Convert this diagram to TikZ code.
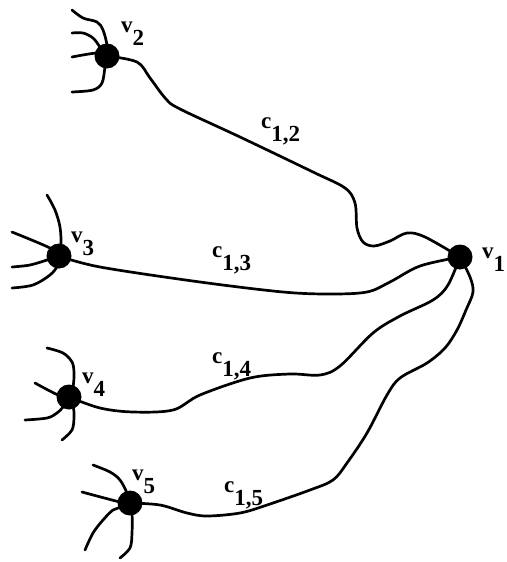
\documentclass[tikz,border=0pt]{standalone}
\usepackage{fontspec}
\setmainfont{Liberation Serif}
\begin{document}
\begin{tikzpicture}[x=1pt,y=-1pt,
  vertex/.style={circle,fill=black,inner sep=0pt,minimum size=25pt},
  wire/.style={line width=2.7pt,line cap=round,line join=round},
  lbl/.style={anchor=base west,inner sep=0pt,font=\fontsize{23}{23}\selectfont\bfseries}]
\useasboundingbox (0,0) rectangle (506,562);
\newcommand{\vlab}[2]{#1\raisebox{-13pt}{\fontsize{23}{23}\selectfont\bfseries #2}}

% vertices
\node[vertex] (v1) at (460,257) {};
\node[vertex] (v2) at (107,56) {};
\node[vertex] (v3) at (59,256) {};
\node[vertex] (v4) at (69,397) {};
\node[vertex] (v5) at (130,503) {};

% vertex labels
\node[lbl] (l1) at (482,258) {\vlab{v}{1}};
\node[lbl] (l2) at (121,32) {\vlab{v}{2}};
\node[lbl] (l3) at (71,242) {\vlab{v}{3}};
\node[lbl] (l4) at (82,383) {\vlab{v}{4}};
\node[lbl] (l5) at (132,480) {\vlab{v}{5}};

% edges to v1
\draw[wire] plot[smooth,tension=0.55] coordinates {(v2) (137,62) (150,78) (166,99) (180,109) (240,137) (313,172) (345,188) (355,203) (357,228) (363,242) (374,246) (390,241) (407,233) (425,237) (v1)};
\draw[wire] plot[smooth,tension=0.55] coordinates {(v3) (100,267) (200,282) (283,292) (330,294) (367,292) (390,282) (420,266) (v1)};
\draw[wire] plot[smooth,tension=0.55] coordinates {(v4) (100,408) (133,412) (173,410) (200,395) (250,378) (290,374) (320,375) (340,366) (373,333) (400,316) (433,300) (448,285) (v1)};
\draw[wire] plot[smooth,tension=0.55] coordinates {(v1) (470,277) (473,292) (466,310) (457,330) (445,348) (427,363) (400,378) (387,395) (367,433) (347,463) (333,480) (310,490) (267,505) (240,513) (207,516) (187,513) (160,505) (v5)};

% edge labels
\node[lbl] (c12) at (261,128) {\vlab{c}{1,2}};
\node[lbl] (c13) at (212,257) {\vlab{c}{1,3}};
\node[lbl] (c14) at (212,363) {\vlab{c}{1,4}};
\node[lbl] (c15) at (224,492) {\vlab{c}{1,5}};

% loose edges at v2
\draw[wire] plot[smooth,tension=0.55] coordinates {(72,10) (83,18) (97,22) (103,30) (107,45) (v2)};
\draw[wire] plot[smooth,tension=0.55] coordinates {(72,33) (83,33) (93,38) (100,47) (v2)};
\draw[wire] plot[smooth,tension=0.55] coordinates {(72,57) (97,53) (v2)};
\draw[wire] plot[smooth,tension=0.55] coordinates {(72,92) (93,90) (102,83) (105,67) (v2)};

% loose edges at v3
\draw[wire] plot[smooth,tension=0.55] coordinates {(47,195) (55,210) (60,227) (61,245) (v3)};
\draw[wire] plot[smooth,tension=0.55] coordinates {(12,232) (50,248) (v3)};
\draw[wire] plot[smooth,tension=0.55] coordinates {(12,267) (30,265) (47,260) (v3)};
\draw[wire] plot[smooth,tension=0.55] coordinates {(12,288) (33,285) (50,275) (58,265) (v3)};

% loose edges at v4
\draw[wire] plot[smooth,tension=0.55] coordinates {(47,348) (63,353) (72,362) (74,373) (73,387) (v4)};
\draw[wire] plot[smooth,tension=0.55] coordinates {(35,383) (58,395) (v4)};
\draw[wire] plot[smooth,tension=0.55] coordinates {(25,420) (47,418) (57,413) (63,407) (v4)};
\draw[wire] plot[smooth,tension=0.55] coordinates {(62,440) (72,430) (74,417) (73,405) (v4)};

% loose edges at v5
\draw[wire] plot[smooth,tension=0.55] coordinates {(93,465) (110,472) (120,480) (127,493) (v5)};
\draw[wire] plot[smooth,tension=0.55] coordinates {(82,492) (120,502) (v5)};
\draw[wire] plot[smooth,tension=0.55] coordinates {(85,550) (93,533) (103,520) (113,510) (122,507) (v5)};
\draw[wire] plot[smooth,tension=0.55] coordinates {(120,558) (130,548) (132,533) (132,513) (v5)};
\end{tikzpicture}
\end{document}
